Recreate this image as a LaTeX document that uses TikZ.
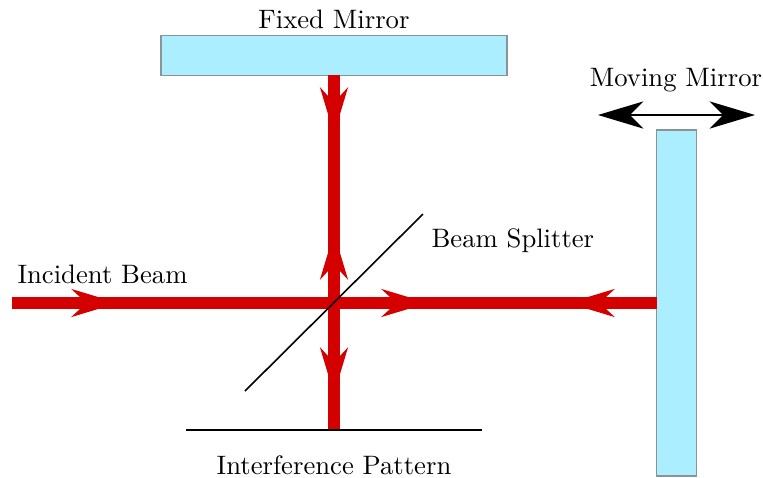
\documentclass[tikz,border=0pt]{standalone}
\usepackage{xcolor}
\usetikzlibrary{arrows.meta, positioning}
\definecolor{beamred}    {HTML}{D40000}
\definecolor{mirrorblue} {HTML}{AAEEFF}
\definecolor{mirroredge} {HTML}{8A9496}
\tikzset{
  mirror/.style={
    rectangle, inner sep=0pt, outer sep=0pt,
    draw=mirroredge, fill=mirrorblue, line width=0.4pt
  },
  beam/.style={line width=4.4pt, color=beamred},
  beamtip/.style={
    beam,
    -{Stealth[length=17.6pt, width=10.6pt, inset=5.8pt, line width=0pt]}
  },
  thinline/.style={line width=0.6pt, color=black},
  slidearrow/.style={
    line width=0.5pt,
    {Stealth[length=17pt, width=10.2pt, inset=5pt]}-{Stealth[length=17pt, width=10.2pt, inset=5pt]}
  },
  caption/.style={inner sep=0pt, font=\normalsize}
}
\begin{document}
\begin{tikzpicture}[x=0.375pt, y=-0.375pt]
  \useasboundingbox (0,0) rectangle (763,477);

  \node[mirror, minimum width=129.75pt, minimum height=14.7pt] (fixed) at (334,55.5) {};
  \node[mirror, minimum width=14.7pt, minimum height=129.75pt] (moving) at (676.5,303) {};

  % beam points
  \coordinate (src) at (12,303);
  \coordinate (bs) at (334,303);
  \coordinate (scr) at (334,430);
  \coordinate (t1) at (118,303);
  \coordinate (t2) at (428,303);
  \coordinate (t3) at (568,303);
  \coordinate (t4) at (334,134);
  \coordinate (t5) at (334,233);
  \coordinate (t6) at (334,394);

  \draw[beam] (src) -- (moving.west);
  \draw[beam] (fixed.south) -- (scr);
  \foreach \a/\b in {src/t1, bs/t2, moving.west/t3, fixed.south/t4, bs/t5, bs/t6}{
    \draw[beamtip] (\a) -- (\b);
  }

  % splitter and screen
  \coordinate (bsa) at (245,391);
  \coordinate (bsb) at (423,214);
  \coordinate (scra) at (186,430);
  \coordinate (scrb) at (482,430);
  \draw[thinline] (bsa) -- (bsb);
  \draw[thinline] (scra) -- (scrb);

  \coordinate (sl) at (598,115);
  \coordinate (sr) at (755,115);
  \draw[slidearrow] (sl) -- (sr);

  \node[caption] (fixedlab) at (334,19) {Fixed Mirror};
  \node[caption] (movinglab) at (676,80) {Moving Mirror};
  \node[caption, anchor=west] (splitlab) at (431,241) {Beam Splitter};
  \node[caption, anchor=west] (inclab) at (17,274) {Incident Beam};
  \node[caption] (patlab) at (334,465) {Interference Pattern};
\end{tikzpicture}
\end{document}
